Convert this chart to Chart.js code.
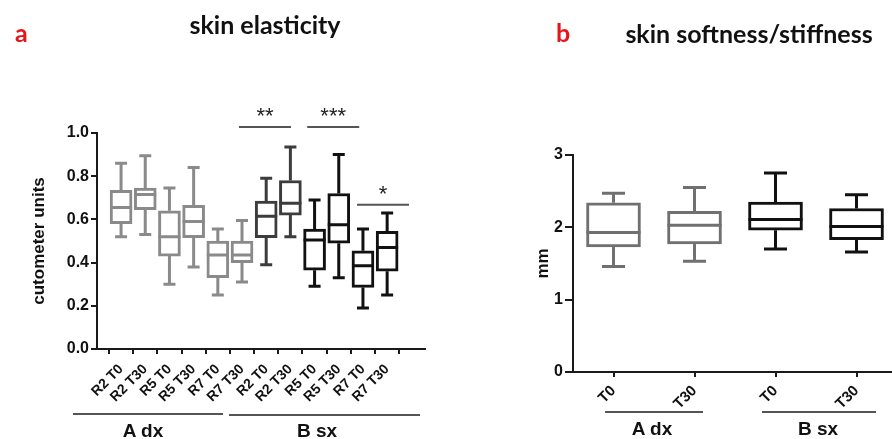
<!DOCTYPE html>
<html lang="en">
<head>
    <meta charset="UTF-8">
    <title>skin elasticity / skin softness</title>
    <script src="https://cdn.jsdelivr.net/npm/chart.js"></script>
    <style>
        html, body { margin: 0; padding: 0; background: #fff; overflow: hidden; }
        body { width: 892px; height: 439px; position: relative; font-family: "Liberation Sans", Arial, sans-serif; }
        canvas { position: absolute; top: 0; }
        #chartA { left: 0; }
        #chartB { left: 480px; }
        .txt { position: absolute; white-space: nowrap; font-weight: bold; line-height: 1; }
        .panel { color: #e8141b; font-family: Lato, sans-serif; font-size: 25px; }
        .title { color: #111; font-family: Lato, sans-serif; font-size: 25px; transform: translateX(-50%); }
        .grp { color: #111; font-size: 19px; transform: translateX(-50%); }
        .bar { position: absolute; height: 2px; background: #555; }
    </style>
</head>
<body>
    <canvas id="chartA" width="450" height="439"></canvas>
    <canvas id="chartB" width="470" height="439"></canvas>

    <div class="txt panel" style="left:15px; top:20px;">a</div>
    <div class="txt title" style="left:265px; top:12px;">skin elasticity</div>
    <div class="txt panel" style="left:556px; top:20px;">b</div>
    <div class="txt title" style="left:749px; top:21px;">skin softness/stiffness</div>

    <div class="bar" style="left:73px; width:150px; top:413px;"></div>
    <div class="txt grp" style="left:143px; top:421px;">A dx</div>
    <div class="bar" style="left:229px; width:191px; top:414px;"></div>
    <div class="txt grp" style="left:317px; top:421px;">B sx</div>

    <div class="bar" style="left:605px; width:98px; top:411px;"></div>
    <div class="txt grp" style="left:652px; top:419px;">A dx</div>
    <div class="bar" style="left:762px; width:114px; top:411px;"></div>
    <div class="txt grp" style="left:818px; top:419px;">B sx</div>

    <script>
        // panel a - skin elasticity (cutometer units)
        const catsA = ['R2 T0', 'R2 T30', 'R5 T0', 'R5 T30', 'R7 T0', 'R7 T30',
                       'R2 T0', 'R2 T30', 'R5 T0', 'R5 T30', 'R7 T0', 'R7 T30']
        const minA = [0.52, 0.53, 0.30, 0.38, 0.25, 0.31, 0.39, 0.52, 0.29, 0.33, 0.19, 0.25]
        const q1A  = [0.58, 0.645, 0.43, 0.515, 0.33, 0.40, 0.515, 0.62, 0.365, 0.49, 0.285, 0.36]
        const medA = [0.655, 0.715, 0.52, 0.59, 0.435, 0.435, 0.615, 0.675, 0.505, 0.575, 0.385, 0.47]
        const q3A  = [0.735, 0.745, 0.64, 0.665, 0.50, 0.50, 0.685, 0.78, 0.555, 0.72, 0.455, 0.545]
        const maxA = [0.86, 0.895, 0.745, 0.84, 0.555, 0.595, 0.79, 0.935, 0.69, 0.90, 0.555, 0.63]
        const ticksA = [0, 0.2, 0.4, 0.6, 0.8, 1.0]

        // significance marks over panel a
        const sigLabels = ['**', '***', '*']
        const sigLevel = [1.028, 1.028, 0.668]
        const sigCenter = [5.95, 8.77, 10.83]

        // panel b - skin softness/stiffness (mm)
        const catsB = ['T0', 'T30', 'T0', 'T30']
        const minB = [1.46, 1.53, 1.70, 1.66]
        const q1B  = [1.73, 1.77, 1.96, 1.83]
        const medB = [1.93, 2.03, 2.11, 2.01]
        const q3B  = [2.34, 2.22, 2.35, 2.26]
        const maxB = [2.47, 2.55, 2.75, 2.45]
        const ticksB = [0, 1, 2, 3]

        const colorsA = ['#8a8a8a', '#8a8a8a', '#8a8a8a', '#8a8a8a', '#8a8a8a', '#8a8a8a',
                         '#3c3c3c', '#3c3c3c', '#111', '#111', '#111', '#111']
        const colorsB = ['#707070', '#707070', '#111', '#111']
        const axisColor = '#1a1a1a'
        const boldFont = size => ({ family: 'Liberation Sans', weight: 'bold', size: size })

        // whiskers + median lines, drawn on top of the floating bars (the boxes)
        function whiskerPlugin(mins, meds, maxs, colors, capW) {
            return {
                id: 'whiskers',
                afterDatasetsDraw(chart) {
                    const ctx = chart.ctx
                    const y = chart.scales.y
                    const meta = chart.getDatasetMeta(0)
                    ctx.save()
                    ctx.lineWidth = 3
                    ctx.lineCap = 'butt'
                    meta.data.forEach((bar, i) => {
                        const p = bar.getProps(['x', 'y', 'base', 'width'], true)
                        const top = Math.min(p.y, p.base)
                        const bot = Math.max(p.y, p.base)
                        const yMin = y.getPixelForValue(mins[i])
                        const yMax = y.getPixelForValue(maxs[i])
                        const yMed = y.getPixelForValue(meds[i])
                        ctx.strokeStyle = colors[i]
                        ctx.beginPath()
                        ctx.moveTo(p.x, top); ctx.lineTo(p.x, yMax)
                        ctx.moveTo(p.x - capW / 2, yMax); ctx.lineTo(p.x + capW / 2, yMax)
                        ctx.moveTo(p.x, bot); ctx.lineTo(p.x, yMin)
                        ctx.moveTo(p.x - capW / 2, yMin); ctx.lineTo(p.x + capW / 2, yMin)
                        ctx.moveTo(p.x - p.width / 2, yMed); ctx.lineTo(p.x + p.width / 2, yMed)
                        ctx.stroke()
                    })
                    ctx.restore()
                }
            }
        }

        const sigPlugin = {
            id: 'sig',
            afterDraw(chart) {
                const ctx = chart.ctx
                const x = chart.scales.x
                const y = chart.scales.y
                ctx.save()
                ctx.strokeStyle = '#555'
                ctx.lineWidth = 2
                ctx.fillStyle = '#222'
                ctx.font = '22px "Liberation Sans"'
                ctx.textAlign = 'center'
                ctx.textBaseline = 'alphabetic'
                sigLabels.forEach((lab, i) => {
                    const cx = x.getPixelForValue(sigCenter[i])
                    const ly = y.getPixelForValue(sigLevel[i])
                    ctx.beginPath()
                    ctx.moveTo(cx - 26, ly); ctx.lineTo(cx + 26, ly)
                    ctx.stroke()
                    ctx.fillText(lab, cx, ly - 4)
                })
                ctx.restore()
            }
        }

        function yAxis(min, max, ticks, fmt, title, width, tickLen, size) {
            return {
                min: min, max: max,
                afterBuildTicks: s => { s.ticks = ticks.map(v => ({ value: v })) },
                afterFit: s => { s.width = width },
                border: { display: true, color: axisColor, width: 2 },
                grid: { drawOnChartArea: false, drawTicks: true, tickLength: tickLen, color: axisColor, lineWidth: 2 },
                ticks: { color: '#111', font: boldFont(size), padding: 2, callback: fmt },
                title: { display: true, text: title, color: '#111', font: boldFont(17), padding: { top: 2, bottom: 2 } }
            }
        }

        new Chart(document.getElementById('chartA'), {
            type: 'bar',
            data: {
                datasets: [{
                    data: catsA.map((c, i) => ({ x: i, y: [q1A[i], q3A[i]] })),
                    backgroundColor: '#fff',
                    borderColor: colorsA,
                    borderWidth: 3,
                    borderSkipped: false,
                    barThickness: 22
                }]
            },
            options: {
                responsive: false,
                animation: false,
                layout: { padding: { left: 27, right: 25, top: 133, bottom: 28 } },
                plugins: { legend: { display: false }, tooltip: { enabled: false } },
                scales: {
                    x: {
                        type: 'linear',
                        min: -0.43, max: 12,
                        afterBuildTicks: s => { s.ticks = catsA.map((c, i) => ({ value: i })) },
                        afterFit: s => { s.height = 62 },
                        border: { display: true, color: axisColor, width: 2 },
                        grid: { drawOnChartArea: false, tickLength: 5, color: axisColor, lineWidth: 2 },
                        ticks: { color: '#111', font: boldFont(14),
                                 autoSkip: false, minRotation: 45, maxRotation: 45, padding: 7,
                                 callback: v => catsA[v] }
                    },
                    y: yAxis(0, 1, ticksA, v => v.toFixed(1), 'cutometer units', 70, 6, 16)
                }
            },
            plugins: [whiskerPlugin(minA, medA, maxA, colorsA, 12), sigPlugin]
        })

        new Chart(document.getElementById('chartB'), {
            type: 'bar',
            data: {
                labels: catsB,
                datasets: [{
                    data: catsB.map((c, i) => [q1B[i], q3B[i]]),
                    backgroundColor: '#fff',
                    borderColor: colorsB,
                    borderWidth: 3,
                    borderSkipped: false,
                    barThickness: 54
                }]
            },
            options: {
                responsive: false,
                animation: false,
                layout: { padding: { left: 51, right: 53, top: 155, bottom: 22 } },
                plugins: { legend: { display: false }, tooltip: { enabled: false } },
                scales: {
                    x: {
                        afterFit: s => { s.height = 45 },
                        border: { display: true, color: axisColor, width: 2 },
                        grid: { drawOnChartArea: false, offset: false, tickLength: 5, color: axisColor, lineWidth: 2 },
                        ticks: { color: '#111', font: boldFont(15),
                                 autoSkip: false, minRotation: 45, maxRotation: 45, padding: 5 }
                    },
                    y: yAxis(0, 3, ticksB, v => String(v), 'mm', 42, 8, 16)
                }
            },
            plugins: [whiskerPlugin(minB, medB, maxB, colorsB, 23)]
        })
    </script>
</body>
</html>
